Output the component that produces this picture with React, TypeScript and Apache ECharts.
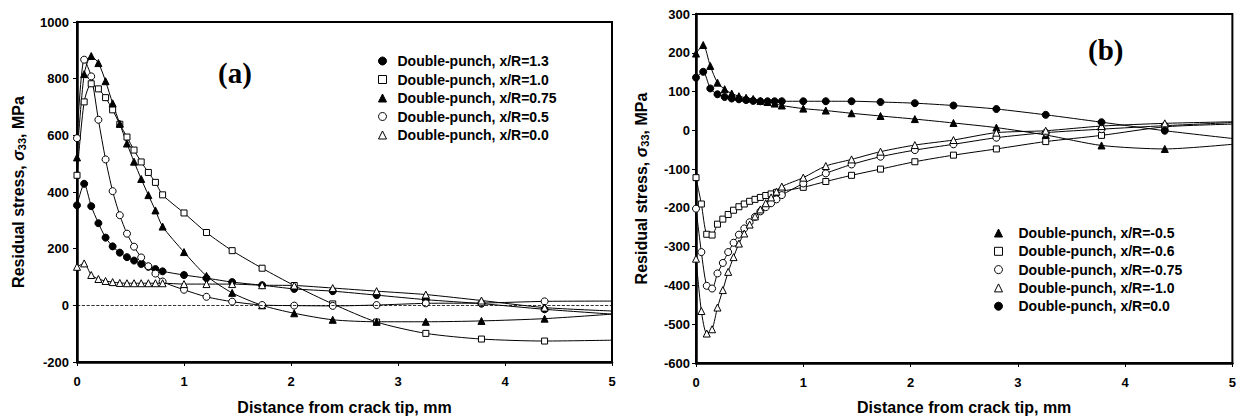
import React, { useEffect, useRef } from "react";
import * as echarts from "echarts";

// ---------- Panel (a) ----------
const XA = [0, 0.067, 0.133, 0.2, 0.267, 0.333, 0.4, 0.467, 0.533, 0.6, 0.667, 0.733, 0.8, 1.0, 1.21, 1.45, 1.73, 2.03, 2.39, 2.8, 3.26, 3.78, 4.37, 5];
const A_13 = [353, 429, 350, 290, 239, 208, 186, 170, 158, 146, 136, 128, 120, 107, 96, 82, 71, 58, 50, 36, 20, 6, -14, -31];
const A_10 = [459, 718, 782, 764, 733, 690, 639, 594, 548, 506, 469, 434, 390, 326, 257, 193, 131, 70, 5, -59, -99, -119, -126, -123];
const A_075 = [522, 816, 880, 855, 791, 713, 641, 571, 507, 446, 389, 335, 278, 188, 104, 44, 0, -28, -51, -58, -58, -55, -47, -31];
const A_05 = [590, 867, 808, 655, 515, 403, 318, 253, 207, 169, 138, 112, 84, 55, 30, 13, 1, -1, -2, 1, 7, 8, 14, 15];
const A_00 = [136, 148, 107, 93, 86, 82, 79, 78, 78, 78, 78, 78, 78, 75, 75, 75, 71, 70, 61, 50, 38, 17, -8, -20];

// ---------- Panel (b) ----------
const XB1 = [0, 0.067, 0.133, 0.2, 0.267, 0.333, 0.4, 0.467, 0.533, 0.6, 0.667, 0.733, 0.8, 1.0, 1.21, 1.45, 1.72, 2.04, 2.4, 2.8, 3.26, 3.78, 4.37, 5];
const B_m05 = [198, 220, 166, 123, 106, 95, 88, 84, 81, 76, 73, 69, 64, 56, 51, 44, 37, 29, 19, 7, -12, -39, -48, -36];
const B_00 = [136, 151, 108, 93, 86, 82, 80, 78, 76, 75, 75, 75, 75, 75, 75, 75, 73, 70, 64, 55, 40, 21, -1, -21];

const XB2 = [0, 0.05, 0.1, 0.15, 0.2, 0.25, 0.3, 0.35, 0.4, 0.45, 0.5, 0.55, 0.6, 0.65, 0.7, 0.75, 0.8, 1.0, 1.21, 1.45, 1.72, 2.04, 2.4, 2.8, 3.26, 3.78, 4.37, 5];
const B_m06 = [-122, -190, -268, -270, -242, -229, -217, -206, -197, -190, -183, -178, -173, -168, -164, -160, -157, -147, -132, -116, -100, -81, -64, -48, -29, -13, 9, 16];
const B_m075 = [-202, -314, -401, -408, -369, -342, -314, -290, -269, -253, -237, -223, -209, -198, -188, -178, -167, -137, -111, -88, -68, -51, -36, -19, -6, 3, 12, 20];
const B_m10 = [-331, -466, -524, -513, -457, -412, -365, -327, -292, -266, -243, -222, -204, -188, -173, -158, -145, -122, -92, -75, -55, -38, -25, -6, -1, 11, 18, 22];

const NAMES_A = [
  "Double-punch, x/R=1.3",
  "Double-punch, x/R=1.0",
  "Double-punch, x/R=0.75",
  "Double-punch, x/R=0.5",
  "Double-punch, x/R=0.0",
];
const NAMES_B = [
  "Double-punch, x/R=-0.5",
  "Double-punch, x/R=-0.6",
  "Double-punch, x/R=-0.75",
  "Double-punch, x/R=-1.0",
  "Double-punch, x/R=0.0 ",
];

const FONT = "'Liberation Sans', Arial, sans-serif";

function pairs(xs: number[], ys: number[]) {
  return ys.map((y, i) => {
    if (i === ys.length - 1 && xs[i] === 5) return { value: [xs[i], y], symbol: "none" };
    return { value: [xs[i], y] };
  });
}

function style(filled: boolean) {
  return filled
    ? { color: "#000", borderColor: "#000", borderWidth: 1 }
    : { color: "#fff", borderColor: "#000", borderWidth: 1 };
}

function mk(name: string, idx: number, xs: number[], ys: number[], symbol: string, filled: boolean, extra: any = {}) {
  return {
    name,
    type: "line",
    xAxisIndex: idx,
    yAxisIndex: idx,
    data: pairs(xs, ys),
    symbol,
    symbolSize: symbol === "rect" ? 6 : 7,
    smooth: 0.25,
    lineStyle: { color: "#000", width: 1 },
    itemStyle: style(filled),
    ...extra,
  };
}

function xAxis(idx: number, gap: number) {
  return {
    type: "value",
    gridIndex: idx,
    min: 0,
    max: 5,
    interval: 1,
    name: "Distance from crack tip, mm",
    nameLocation: "middle",
    nameGap: gap,
    nameTextStyle: { fontFamily: FONT, fontWeight: "bold", fontSize: 16, color: "#000" },
    axisLine: { onZero: false, lineStyle: { color: "#000", width: 2.5 } },
    axisTick: { show: true, length: 4, lineStyle: { color: "#000", width: 1 } },
    axisLabel: { fontFamily: FONT, fontWeight: "bold", fontSize: 13, color: "#000", margin: 13, formatter: (v: number) => String(v) },
    splitLine: { show: false },
  };
}

function yAxis(idx: number, min: number, max: number, interval: number, gap: number, margin: number) {
  return {
    type: "value",
    gridIndex: idx,
    min,
    max,
    interval,
    name: "Residual stress, {g|σ}{s|33}, MPa",
    nameLocation: "middle",
    nameGap: gap,
    nameTextStyle: {
      fontFamily: FONT,
      fontWeight: "bold",
      fontSize: 16,
      color: "#000",
      rich: {
        g: { fontFamily: FONT, fontWeight: "bold", fontStyle: "italic", fontSize: 16, color: "#000" },
        s: { fontFamily: FONT, fontWeight: "bold", fontSize: 11, color: "#000", padding: [7, 0, 0, 0] },
      },
    },
    axisLine: { show: true, onZero: false, lineStyle: { color: "#000", width: 2.5 } },
    axisTick: { show: true, length: 4, lineStyle: { color: "#000", width: 1 } },
    axisLabel: { fontFamily: FONT, fontWeight: "bold", fontSize: 13, color: "#000", margin, formatter: (v: number) => String(v) },
    splitLine: { show: false },
  };
}

function legendData(names: string[], icons: string[], filled: boolean[]) {
  return names.map((n, i) => ({ name: n, icon: icons[i], itemStyle: style(filled[i]) }));
}

export default function App() {
  const ref = useRef<HTMLDivElement>(null);
  useEffect(() => {
    if (!ref.current) return;
    const chart = echarts.init(ref.current, undefined, { renderer: "svg" });
    const option: any = {
      animation: false,
      backgroundColor: "#fff",
      grid: [
        { left: 77, top: 22, width: 535, height: 347, show: true, borderColor: "#000", borderWidth: 2, backgroundColor: "transparent" },
        { left: 696, top: 14, width: 537, height: 349, show: true, borderColor: "#000", borderWidth: 2, backgroundColor: "transparent" },
      ],
      xAxis: [xAxis(0, 37), xAxis(1, 36)],
      yAxis: [yAxis(0, -200, 1000, 200, 50, 8), yAxis(1, -600, 300, 100, 46, 6)],
      legend: [
        {
          orient: "vertical",
          left: 373,
          top: 49,
          itemWidth: 8,
          itemHeight: 8,
          itemGap: 4.5,
          textStyle: { fontFamily: FONT, fontWeight: "bold", fontSize: 14, color: "#000", lineHeight: 14, padding: [0, 0, 0, 6] },
          data: legendData(NAMES_A, ["circle", "rect", "triangle", "circle", "triangle"], [true, false, true, false, false]),
        },
        {
          orient: "vertical",
          left: 989,
          top: 221,
          itemWidth: 8,
          itemHeight: 8,
          itemGap: 4.3,
          textStyle: { fontFamily: FONT, fontWeight: "bold", fontSize: 14, color: "#000", lineHeight: 14, padding: [0, 0, 0, 11] },
          data: legendData(NAMES_B, ["triangle", "rect", "circle", "triangle", "circle"], [true, false, false, false, true]),
        },
      ],
      graphic: [
        { type: "text", left: 218, top: 58, style: { text: "(a)", font: "bold 29px 'Liberation Serif', 'Times New Roman', serif", fill: "#000" } },
        { type: "text", left: 1088, top: 35, style: { text: "(b)", font: "bold 29px 'Liberation Serif', 'Times New Roman', serif", fill: "#000" } },
      ],
      series: [
        mk(NAMES_A[0], 0, XA, A_13, "circle", true, {
          markLine: {
            silent: true,
            symbol: ["none", "none"],
            label: { show: false },
            lineStyle: { color: "#000", type: "dashed", width: 0.8 },
            data: [{ yAxis: 0 }],
          },
        }),
        mk(NAMES_A[1], 0, XA, A_10, "rect", false),
        mk(NAMES_A[2], 0, XA, A_075, "triangle", true),
        mk(NAMES_A[3], 0, XA, A_05, "circle", false),
        mk(NAMES_A[4], 0, XA, A_00, "triangle", false),
        mk(NAMES_B[0], 1, XB1, B_m05, "triangle", true),
        mk(NAMES_B[1], 1, XB2, B_m06, "rect", false),
        mk(NAMES_B[2], 1, XB2, B_m075, "circle", false),
        mk(NAMES_B[3], 1, XB2, B_m10, "triangle", false),
        mk(NAMES_B[4], 1, XB1, B_00, "circle", true),
      ],
    };
    chart.setOption(option);
    return () => chart.dispose();
  }, []);
  return (
    <div
      ref={ref}
      style={{ position: "absolute", left: 0, top: 0, width: 1239, height: 420, background: "#fff" }}
    />
  );
}
